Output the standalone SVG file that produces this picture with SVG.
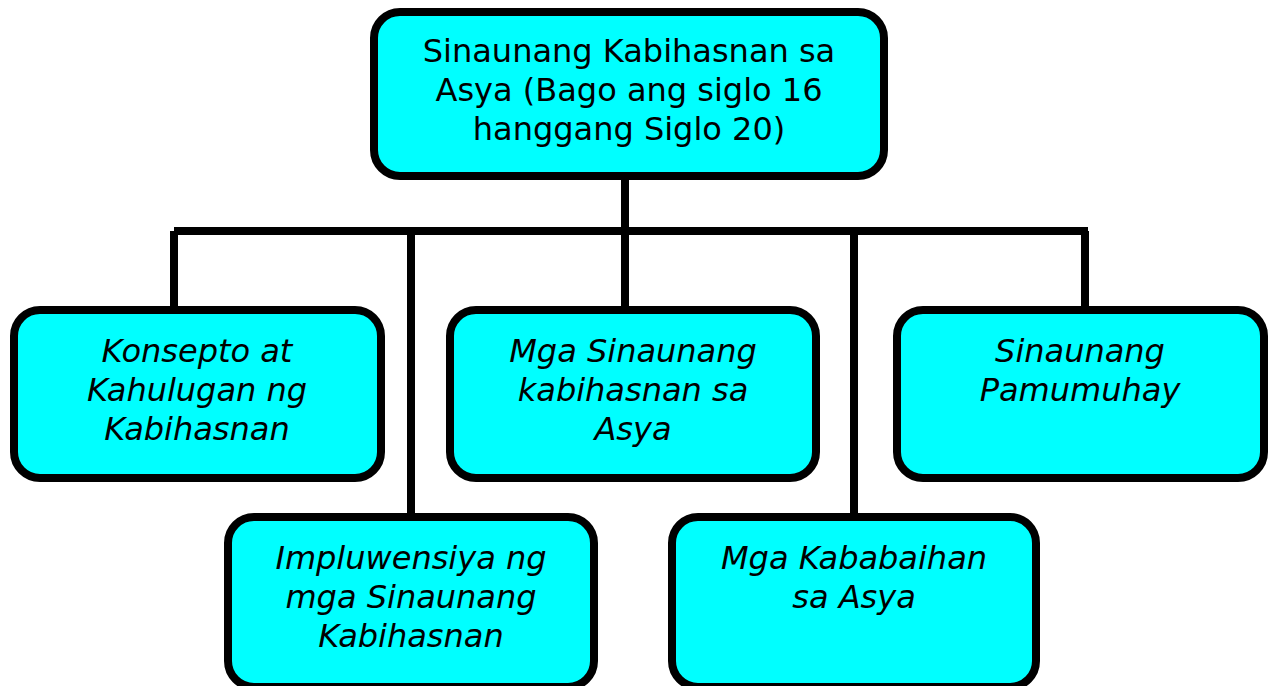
<svg xmlns="http://www.w3.org/2000/svg" width="1273" height="686" viewBox="0 0 1273 686">
<style>
.box{fill:#00FFFF;stroke:#000;stroke-width:8}
.t{font-family:"DejaVu Sans","Verdana",sans-serif;font-size:32px;fill:#000;text-anchor:middle}
.i{font-style:italic}
.c{stroke:#000;stroke-width:8;fill:none}
</style>
<rect width="1273" height="686" fill="#fff"/>
<g id="connectors">
<line class="c" x1="625" y1="178" x2="625" y2="310"/>
<line class="c" x1="174" y1="231" x2="1088" y2="231"/>
<line class="c" x1="174" y1="231" x2="174" y2="310"/>
<line class="c" x1="411" y1="231" x2="411" y2="517"/>
<line class="c" x1="854" y1="231" x2="854" y2="517"/>
<line class="c" x1="1085" y1="231" x2="1085" y2="310"/>
</g>
<g id="root">
<rect class="box" x="374" y="12" width="510" height="164" rx="26"/>
<text class="t" x="629" y="62">Sinaunang Kabihasnan sa</text>
<text class="t" x="629" y="101">Asya (Bago ang siglo 16</text>
<text class="t" x="629" y="140">hanggang Siglo 20)</text>
</g>
<g id="konsepto">
<rect class="box" x="14" y="310" width="367" height="168" rx="26"/>
<text class="t i" x="197" y="362">Konsepto at</text>
<text class="t i" x="197" y="401">Kahulugan ng</text>
<text class="t i" x="197" y="440">Kabihasnan</text>
</g>
<g id="mga-sinaunang">
<rect class="box" x="450" y="310" width="366" height="168" rx="26"/>
<text class="t i" x="633" y="362">Mga Sinaunang</text>
<text class="t i" x="633" y="401">kabihasnan sa</text>
<text class="t i" x="633" y="440">Asya</text>
</g>
<g id="pamumuhay">
<rect class="box" x="897" y="310" width="367" height="168" rx="26"/>
<text class="t i" x="1080" y="362">Sinaunang</text>
<text class="t i" x="1080" y="401">Pamumuhay</text>
</g>
<g id="impluwensiya">
<rect class="box" x="228" y="517" width="366" height="170" rx="26"/>
<text class="t i" x="411" y="569">Impluwensiya ng</text>
<text class="t i" x="411" y="608">mga Sinaunang</text>
<text class="t i" x="411" y="647">Kabihasnan</text>
</g>
<g id="kababaihan">
<rect class="box" x="672" y="517" width="364" height="170" rx="26"/>
<text class="t i" x="854" y="569">Mga Kababaihan</text>
<text class="t i" x="854" y="608">sa Asya</text>
</g>
</svg>
